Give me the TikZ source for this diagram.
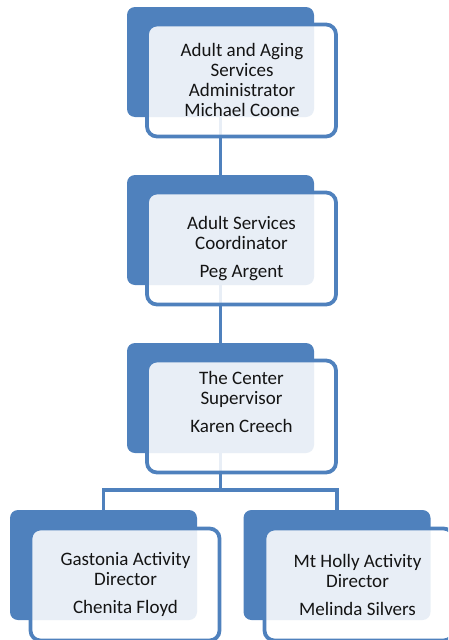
\documentclass[tikz,border=0pt]{standalone}
\usepackage{fontspec}
\setmainfont{Carlito}
\definecolor{boxblue}{HTML}{4F81BD}
\definecolor{txt}{HTML}{141414}
\begin{document}
\begin{tikzpicture}[x=1pt,y=-1pt,
  backbox/.style={fill=boxblue,draw=none,rounded corners=8pt,minimum width=187pt,minimum height=110pt,inner sep=0pt,outer sep=0pt},
  frontbox/.style={fill=white,fill opacity=0.87,draw=boxblue,line width=3.8pt,rounded corners=10pt,minimum width=189pt,minimum height=112pt,inner sep=0pt,outer sep=0pt},
  label/.style={align=center,text=txt,font=\fontsize{19pt}{20pt}\selectfont,inner sep=0pt},
  conn/.style={draw=boxblue,line width=3.8pt}]
\clip (0,0) rectangle (448,640);
% positions
\coordinate (c1) at (220.5,62);
\coordinate (c2) at (220.5,230);
\coordinate (c3) at (220.5,398);
\coordinate (c4) at (103.5,565);
\coordinate (c5) at (337,565);
% back boxes
\node[backbox] (b1) at (c1) {};
\node[backbox] (b2) at (c2) {};
\node[backbox] (b3) at (c3) {};
\node[backbox] (b4) at (c4) {};
\node[backbox] (b5) at (c5) {};
% connectors
\coordinate (split) at (220.5,490);
\path[conn] (b1.south) -- (b2.north);
\path[conn] (b2.south) -- (b3.north);
\path[conn] (b3.south) -- (split) -| (b4.north);
\path[conn] (split) -| (b5.north);
% front boxes
\node[frontbox] (f1) at (241.5,80.5) {};
\node[frontbox] (f2) at (241.5,248.5) {};
\node[frontbox] (f3) at (241.5,416.5) {};
\node[frontbox] (f4) at (125,584.5) {};
\node[frontbox] (f5) at (359,584.5) {};
% texts
\node[label] (t1) at (242,80) {Adult and Aging\\Services\\Administrator\\Michael Coone};
\node[label] (t2) at (241.5,249) {Adult Services\\Coordinator\\[8pt]Peg Argent};
\node[label] (t3) at (241.5,402) {The Center\\Supervisor\\[8pt]Karen Creech};
\node[label] (t4) at (125.5,584.5) {Gastonia Activity\\Director\\[8pt]Chenita Floyd};
\node[label] (t5) at (357.5,584.5) {Mt Holly Activity\\Director\\[8pt]Melinda Silvers};
\end{tikzpicture}
\end{document}
